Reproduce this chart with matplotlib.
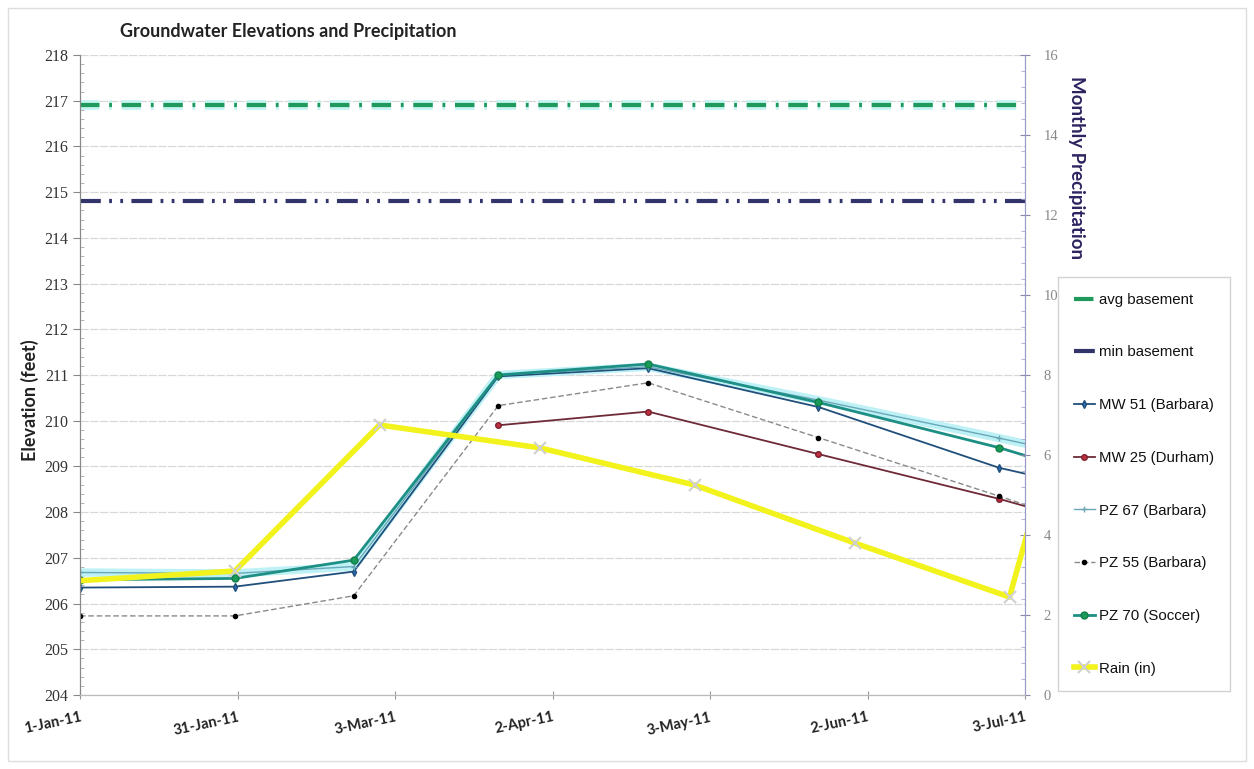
import matplotlib
matplotlib.use("Agg")
import matplotlib.pyplot as plt
import matplotlib.dates as mdates
from matplotlib.ticker import MultipleLocator
import numpy as np
import pandas as pd

plt.rcParams["lines.scale_dashes"] = False

# well readings (feet)
well_dates = pd.to_datetime(["2011-01-01", "2011-01-31", "2011-02-23", "2011-03-23",
                             "2011-04-21", "2011-05-24", "2011-06-28", "2011-07-26"])
mw51 = [206.35, 206.37, 206.70, 210.97, 211.15, 210.30, 208.97, 208.25]
mw25 = [np.nan, np.nan, np.nan, 209.90, 210.20, 209.27, 208.29, 207.40]
pz67 = [206.68, 206.66, 206.81, 211.00, 211.18, 210.45, 209.62, 208.93]
pz55 = [205.73, 205.73, 206.17, 210.33, 210.83, 209.63, 208.35, 207.30]
pz70 = [206.52, 206.55, 206.95, 211.00, 211.24, 210.40, 209.41, 208.45]
avg_basement = 216.9
min_basement = 214.8

# monthly rain (in)
rain_dates = pd.to_datetime(["2010-12-31", "2011-01-31", "2011-02-28", "2011-03-31",
                             "2011-04-30", "2011-05-31", "2011-06-30", "2011-07-12"])
rain_in = [2.85, 3.10, 6.75, 6.18, 5.25, 3.80, 2.45, 8.0]

tick_labels = ["1-Jan-11", "31-Jan-11", "3-Mar-11", "2-Apr-11", "3-May-11", "2-Jun-11", "3-Jul-11"]

W, H = 1254, 769
fig = plt.figure(figsize=(W/100, H/100), dpi=100)
ax = fig.add_axes([80/W, 74/H, 945/W, 640/H])
ax2 = ax.twinx()

# basement lines
ax.axhline(avg_basement, color="#c4f3f0", lw=7, dashes=(14, 7, 2, 7), zorder=2)
l_avg = ax.axhline(avg_basement, color="#1f9a5c", lw=3, dashes=(14, 7, 2, 7), label="avg basement", zorder=3)
l_min = ax.axhline(min_basement, color="#34346c", lw=3, dashes=(15, 6, 2, 6, 2, 6), label="min basement", zorder=3)

# wells
ax.plot(well_dates, pz67, color="#bdf1f6", lw=6, zorder=2)
l51, = ax.plot(well_dates, mw51, color="#1f4f7a", lw=1.3, marker="d", ms=4, mfc="#2a6ab0", mec="#1f4f7a", label="MW 51 (Barbara)", zorder=4)
l25, = ax.plot(well_dates, mw25, color="#6e2a36", lw=1.3, marker="o", ms=4, mfc="#c0303c", mec="#7a2030", label="MW 25 (Durham)", zorder=4)
l67, = ax.plot(well_dates, pz67, color="#6aa8b8", lw=1.0, marker="+", ms=4, label="PZ 67 (Barbara)", zorder=4)
l55, = ax.plot(well_dates, pz55, color="#8a8a8a", lw=1.0, ls=(0, (4, 2)), marker="o", ms=3, mfc="black", mec="black", label="PZ 55 (Barbara)", zorder=4)
l70, = ax.plot(well_dates, pz70, color="#1e8f84", lw=2.0, marker="o", ms=5, mfc="#1a9a5a", mec="#128048", label="PZ 70 (Soccer)", zorder=5)

# rain
lr, = ax2.plot(rain_dates, rain_in, color="#f2f21c", lw=4, marker="x", ms=9, mec="#d0d0d0", mew=1.5, label="Rain (in)")

start = mdates.date2num(pd.Timestamp("2011-01-01"))
ticks = start + 30.5*np.arange(len(tick_labels))
ax.set_xlim(start, ticks[-1])
ax.set_xticks(ticks)
ax.set_xticklabels(tick_labels, rotation=12, ha="right", rotation_mode="anchor",
                   fontfamily="Lato", fontweight="bold", fontsize=10.5, color="#222222")
ax.tick_params(axis="x", direction="inout", length=6, color="#999999", pad=8)

ax.set_ylim(204, 218)
ax.yaxis.set_major_locator(MultipleLocator(1))
ax.yaxis.set_minor_locator(MultipleLocator(0.2))
ax.tick_params(axis="y", which="major", direction="out", length=5, color="#888888", labelsize=11.5, labelcolor="#333333")
ax.tick_params(axis="y", which="minor", direction="in", length=3, color="#aaaaaa")
for t in ax.get_yticklabels():
    t.set_fontfamily("Liberation Serif")
ax.grid(axis="y", color="#d8d8d8", lw=0.9, ls=(0, (6, 1)))
ax.set_axisbelow(True)

ax2.set_ylim(0, 16)
ax2.yaxis.set_major_locator(MultipleLocator(2))
ax2.yaxis.set_minor_locator(MultipleLocator(0.4))
ax2.tick_params(axis="y", which="major", direction="inout", length=7, color="#8888aa", labelsize=10.5, labelcolor="#888888", pad=10)
ax2.tick_params(axis="y", which="minor", direction="in", length=3, color="#aaaacc")
for t in ax2.get_yticklabels():
    t.set_fontfamily("Liberation Serif")

for a in (ax, ax2):
    a.spines["top"].set_visible(False)
    a.spines["left"].set_color("#888888")
    a.spines["bottom"].set_color("#bbbbbb")
    a.spines["right"].set_color("#9a9ac8")

fig.text(120/W, 1-32/H, "Groundwater Elevations and Precipitation", fontfamily="Lato",
         fontweight="bold", fontsize=13, va="center", ha="left", color="#222222")
fig.text(30/W, 1-400/H, "Elevation (feet)", fontfamily="Lato", fontweight="bold",
         fontsize=13, rotation=90, va="center", ha="center", color="#222222")
fig.text(1077/W, 1-168/H, "Monthly Precipitation", fontfamily="Lato", fontweight="bold",
         fontsize=13.5, rotation=270, va="center", ha="center", color="#2c2460")

handles = [l_avg, l_min, l51, l25, l67, l55, l70, lr]
leg = fig.legend(handles, [h.get_label() for h in handles], loc="upper left",
                 bbox_to_anchor=(1058/W, 1-277/H), frameon=True, fancybox=False,
                 edgecolor="#c8c8c8", fontsize=10.8, labelspacing=2.58, handlelength=1.4,
                 handletextpad=0.3, borderpad=1.05, borderaxespad=0)
for t in leg.get_texts():
    t.set_fontfamily("Liberation Sans")
    t.set_color("#111111")
leg.get_frame().set_linewidth(1.0)

fig.patches.append(plt.Rectangle((8/W, 8/H), 1-16/W, 1-16/H, transform=fig.transFigure,
                                 fill=False, ec="#dddddd", lw=1))

fig.savefig("out.png", dpi=100)
